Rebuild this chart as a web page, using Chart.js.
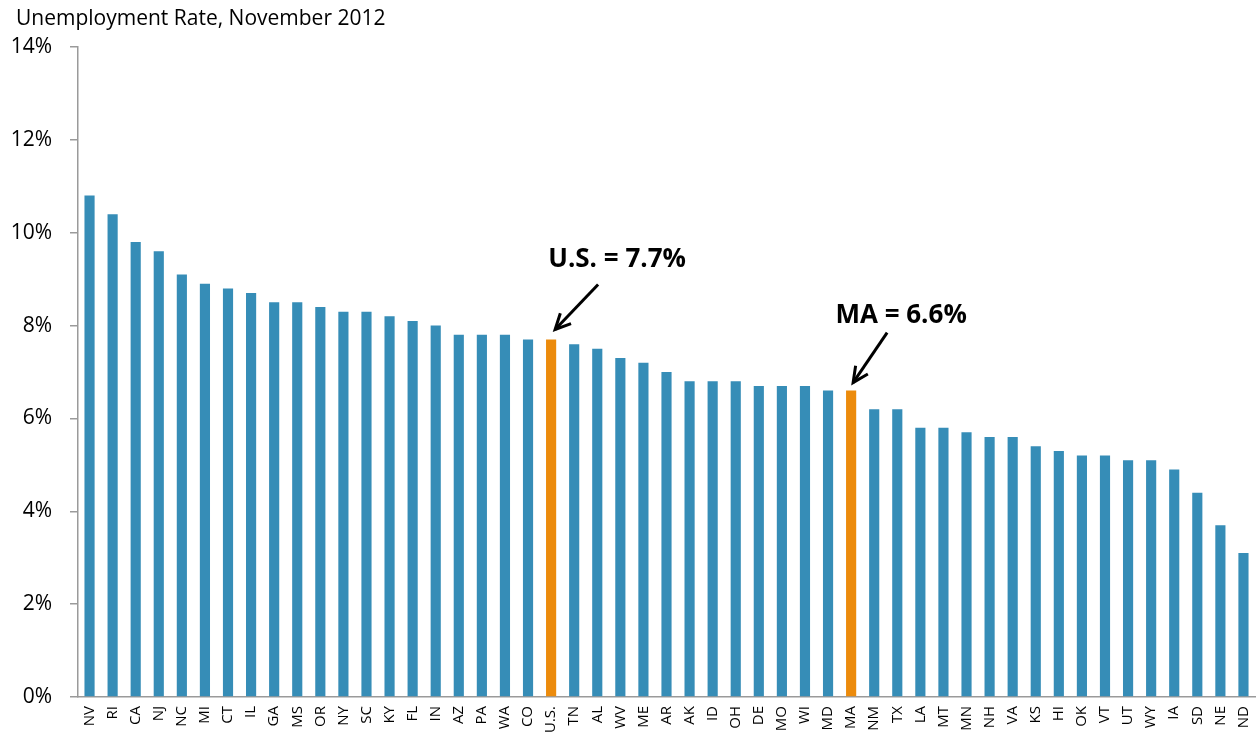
<!DOCTYPE html>
<html>
<head>
<meta charset="utf-8">
<script src="https://cdn.jsdelivr.net/npm/chart.js@4.4.1/dist/chart.umd.min.js"></script>
<style>
  html, body { margin: 0; padding: 0; background: #ffffff; }
  #wrap { width: 1257px; height: 738px; position: relative; }
</style>
</head>
<body>
<div id="wrap"><canvas id="c" width="1257" height="738"></canvas></div>
<script>
const title = 'Unemployment Rate, November 2012';
const states = ['NV','RI','CA','NJ','NC','MI','CT','IL','GA','MS','OR','NY','SC','KY','FL','IN','AZ','PA','WA','CO','U.S.','TN','AL','WV','ME','AR','AK','ID','OH','DE','MO','WI','MD','MA','NM','TX','LA','MT','MN','NH','VA','KS','HI','OK','VT','UT','WY','IA','SD','NE','ND'];
const rates = [10.8,10.4,9.8,9.6,9.1,8.9,8.8,8.7,8.5,8.5,8.4,8.3,8.3,8.2,8.1,8.0,7.8,7.8,7.8,7.7,7.7,7.6,7.5,7.3,7.2,7.0,6.8,6.8,6.8,6.7,6.7,6.7,6.6,6.6,6.2,6.2,5.8,5.8,5.7,5.6,5.6,5.4,5.3,5.2,5.2,5.1,5.1,4.9,4.4,3.7,3.1];
const highlighted = ['U.S.','MA'];
const callouts = [
  { state: 'U.S.', text: 'U.S. = 7.7%' },
  { state: 'MA', text: 'MA = 6.6%' }
];
const yTicks = [0,2,4,6,8,10,12,14];

const BLUE = '#368DB7';
const ORANGE = '#EC8B0C';
const AXIS = '#9a9a9a';
const FONT = '"Open Sans", Lato, sans-serif';

const calloutPlugin = {
  id: 'callouts',
  afterDatasetsDraw(chart) {
    const ctx = chart.ctx, xs = chart.scales.x, ys = chart.scales.y;
    ctx.save();
    callouts.forEach((c, k) => {
      const i = states.indexOf(c.state);
      const px = xs.getPixelForValue(i), py = ys.getPixelForValue(rates[i]);
      const off = k === 0 ? {tx:4, ty:-10, ax:47, ay:-55, lx:66, ly:-80}
                          : {tx:2, ty:-8, ax:36, ay:-58, lx:50, ly:-75};
      const tipX = px + off.tx, tipY = py + off.ty;
      const tailX = px + off.ax, tailY = py + off.ay;
      ctx.strokeStyle = '#000'; ctx.lineWidth = 3; ctx.lineCap = 'butt';
      ctx.beginPath(); ctx.moveTo(tailX, tailY); ctx.lineTo(tipX, tipY); ctx.stroke();
      const ang = Math.atan2(tipY - tailY, tipX - tailX);
      const hl = 17, ha = 0.45;
      ctx.beginPath();
      ctx.moveTo(tipX - hl*Math.cos(ang - ha), tipY - hl*Math.sin(ang - ha));
      ctx.lineTo(tipX, tipY);
      ctx.lineTo(tipX - hl*Math.cos(ang + ha), tipY - hl*Math.sin(ang + ha));
      ctx.stroke();
      ctx.fillStyle = '#000';
      ctx.font = 'bold 26px ' + FONT;
      ctx.textAlign = 'center'; ctx.textBaseline = 'middle';
      ctx.fillText(c.text, px + off.lx, py + off.ly);
    });
    ctx.font = '21px ' + FONT;
    ctx.textAlign = 'left'; ctx.textBaseline = 'middle';
    ctx.fillStyle = '#000';
    ctx.fillText(title, 16, 19);
    ctx.restore();
  }
};

new Chart(document.getElementById('c'), {
  type: 'bar',
  data: {
    labels: states,
    datasets: [{
      data: rates,
      backgroundColor: states.map(s => highlighted.includes(s) ? ORANGE : BLUE),
      barPercentage: 0.44,
      categoryPercentage: 1.0
    }]
  },
  options: {
    responsive: false,
    animation: false,
    layout: { padding: { top: 47, right: 2, left: 0, bottom: 0 } },
    plugins: { legend: { display: false }, tooltip: { enabled: false } },
    scales: {
      x: {
        grid: { display: false, drawTicks: false },
        border: { color: AXIS, width: 1.5 },
        ticks: { color: '#000', font: { family: FONT, size: 15 }, minRotation: 90, maxRotation: 90, autoSkip: false, padding: 9 },
        afterFit(s) { s.height = 41; s.paddingLeft = 0; s.paddingRight = 0; }
      },
      y: {
        min: 0, max: 14,
        afterBuildTicks(s) { s.ticks = yTicks.map(v => ({ value: v })); },
        grid: { display: true, drawOnChartArea: false, drawTicks: true, tickLength: 8, color: AXIS, lineWidth: 1.5 },
        border: { color: AXIS, width: 1.5 },
        ticks: { color: '#000', font: { family: FONT, size: 21 }, padding: 18, callback: v => v + '%' },
        afterFit(s) { s.width = 78; }
      }
    }
  },
  plugins: [calloutPlugin]
});
</script>
</body>
</html>
